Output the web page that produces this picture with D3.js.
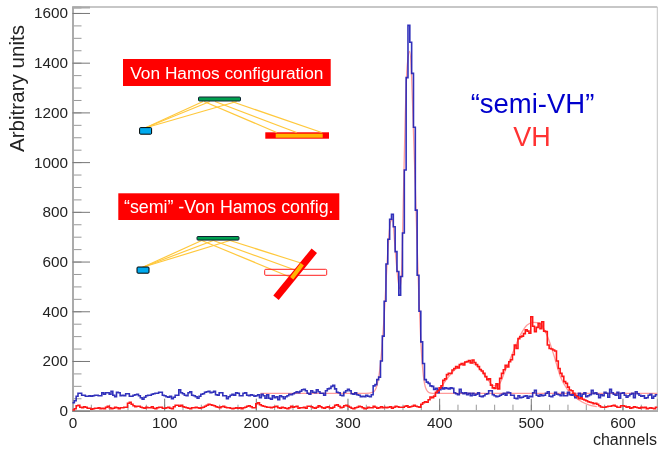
<!DOCTYPE html>
<html lang="en">
<head>
	<meta charset="UTF-8">
	<title>semi-VH vs VH</title>
	<style>
		html, body { margin: 0; padding: 0; background: #fff; }
		svg { display: block; }
		text { font-family: "Liberation Sans", Arial, sans-serif; }
	</style>
</head>
<body>
	<script src="https://cdn.jsdelivr.net/npm/d3@7"></script>
	<script>
		// histogram contents, one value per 2 channel bin, 10 bins (20 channels) a row
		var semiVH = [
			32,40,58,70,70,62,62,58,58,60,
			58,60,62,62,60,60,72,66,72,72,
			66,78,62,56,74,72,60,62,60,68,
			68,58,58,62,64,66,60,52,46,54,
			60,62,62,66,68,70,70,74,74,62,
			60,56,54,58,48,54,62,62,84,72,
			68,62,60,72,76,62,60,56,50,58,
			66,68,74,76,78,72,74,78,64,62,
			72,72,60,60,48,56,62,66,62,72,
			70,60,60,70,72,62,60,64,62,58,
			60,64,52,66,60,50,64,50,46,60,
			52,56,44,60,56,48,56,60,66,64,
			68,72,76,72,78,84,86,80,70,66,
			80,74,72,84,76,70,70,62,80,88,
			90,98,102,88,74,72,62,60,74,80,
			86,80,68,66,72,64,62,56,58,56,
			62,58,56,64,100,105,125,135,200,300,
			440,590,690,770,790,740,640,560,465,540,
			715,968,1340,1550,1482,1357,1140,807,545,400,
			277,190,125,115,110,100,98,85,90,72,
			84,92,88,92,90,88,92,90,72,68,
			64,86,72,68,72,64,70,60,70,62,
			66,72,58,56,60,66,68,80,80,64,
			60,56,58,62,66,70,62,74,72,62,
			62,50,48,60,52,54,58,60,50,58,
			56,72,82,62,58,64,60,62,70,76,
			58,56,62,74,66,64,60,74,60,60,
			74,64,62,66,52,60,70,58,66,72,
			56,60,64,82,68,72,66,52,64,60,
			74,70,54,86,72,66,62,74,50,70,
			72,62,54,60,66,70,52,76,68,62,
			58,60,50,52,62,66,50,58,64
		];

		var vonHamos = [
			3,8,20,22,14,12,16,14,10,10,
			6,8,10,10,12,8,10,8,14,18,
			12,8,10,14,12,8,12,12,14,14,
			30,34,26,20,16,18,18,14,12,10,
			14,12,12,16,10,8,12,14,14,10,
			10,12,14,10,8,16,22,22,18,22,
			16,14,12,10,8,12,12,14,12,10,
			12,14,18,22,26,24,22,20,16,14,
			12,16,18,14,12,12,10,8,10,12,
			10,12,8,12,14,18,20,16,12,12,
			28,32,24,20,18,16,14,14,12,14,
			16,18,12,10,14,12,10,8,12,18,
			14,16,18,10,12,12,14,10,18,18,
			16,12,10,14,20,16,12,10,14,16,
			12,10,14,22,24,18,12,14,20,22,
			18,14,10,8,12,14,18,16,12,8,
			10,14,12,12,18,14,10,12,16,12,
			14,12,14,16,10,14,18,16,14,14,
			14,18,20,14,16,18,22,18,16,14,
			26,32,36,34,44,55,52,58,74,80,
			92,100,122,128,145,150,150,164,170,178,
			172,186,190,184,196,198,202,192,204,194,
			186,178,166,160,150,137,125,128,103,92,
			90,108,88,130,150,165,183,176,197,205,
			225,264,250,290,297,300,310,325,320,312,
			378,340,318,335,352,330,358,320,318,264,
			250,248,244,240,200,170,150,138,117,110,
			95,83,80,70,62,56,48,52,46,43,
			40,36,34,32,28,30,26,20,15,14,
			14,16,18,18,20,22,18,14,14,20,
			20,18,14,16,10,12,16,14,12,10,
			14,12,14,8,10,12,10,8,14
		];

		// fit curves, [channel, counts]
		var semiVHFit = [
			[205,70],[320,70],[328,75],[332,100],[336,190],[340,380],[344,640],[347,760],[349,770],
			[352,650],[355,530],[357,490],[359,560],[361,860],[363,1180],[365,1380],[368,1445],
			[370,1340],[372,1120],[374,900],[376,660],[378,450],[380,280],[382,170],[384,110],
			[386,85],[389,73],[393,70],[638,70]
		];
		var vonHamosFit = [
			[390,45],[400,85],[410,135],[420,175],[430,195],[437,190],[445,165],[452,130],[460,100],
			[465,105],[472,160],[480,230],[488,300],[496,345],[503,355],[510,350],[518,300],[525,225],
			[532,140],[540,85],[548,55],[556,35],[564,22],[572,16]
		];

		var xTicks = [0, 100, 200, 300, 400, 500, 600],
			yTicks = [0, 200, 400, 600, 800, 1000, 1200, 1400, 1600],
			xMinor = d3.range(0, 638, 20),
			yMinor = d3.range(0, 1601, 50);

		var binWidth = 2,
			width = 658,
			height = 449,
			x = d3.scaleLinear()
				.domain([0, 638])
				.range([72.5, 657.3]),
			y = d3.scaleLinear()
				.domain([0, 1624])
				.range([410.7, 7]);

		var root = d3.select("body").append("svg")
			.attr("width", width)
			.attr("height", height)

		// the reference is a slightly soft screenshot
		root.append("defs").append("filter")
			.attr("id", "soft")
			.attr("x", 0).attr("y", 0)
			.attr("width", 1).attr("height", 1)
			.attr("filterUnits", "objectBoundingBox")
			.append("feGaussianBlur")
			.attr("stdDeviation", 0.4)

		var svg = root.append("g")
			.attr("filter", "url(#soft)")

		svg.append("rect")
			.attr("width", width)
			.attr("height", height)
			.attr("fill", "#fff")

		// frame
		svg.append("line")
			.attr("x1", x(0)).attr("x2", x(638))
			.attr("y1", y(1624)).attr("y2", y(1624))
			.attr("stroke", "#b4b4b4")
			.attr("stroke-width", 1.5)
		svg.append("line")
			.attr("x1", x(638)).attr("x2", x(638))
			.attr("y1", y(1624)).attr("y2", y(0))
			.attr("stroke", "#c4c4c4")
			.attr("stroke-width", 1)

		function renderXAxis() {
			svg.append("g")
				.attr("class", "x-minor")
				.attr("transform", "translate(0," + y(0) + ")")
				.call(d3.axisTop(x).tickValues(xMinor).tickSize(6).tickFormat(""))

			var g = svg.append("g")
				.attr("class", "x-axis")
				.attr("transform", "translate(0," + y(0) + ")")
				.call(d3.axisTop(x).tickValues(xTicks).tickSize(12).tickFormat(d3.format("d")))

			g.selectAll("text")
				.attr("y", 17)
				.attr("dy", 0)
				.attr("font-size", 15.3)
				.attr("fill", "#222")
		}

		function renderYAxis() {
			svg.append("g")
				.attr("class", "y-minor")
				.attr("transform", "translate(" + x(0) + ",0)")
				.call(d3.axisRight(y).tickValues(yMinor).tickSize(9).tickFormat(""))

			var g = svg.append("g")
				.attr("class", "y-axis")
				.attr("transform", "translate(" + x(0) + ",0)")
				.call(d3.axisRight(y).tickValues(yTicks).tickSize(17.5).tickFormat(d3.format("d")))

			g.selectAll("text")
				.attr("x", -4.5)
				.attr("text-anchor", "end")
				.attr("font-size", 15.3)
				.attr("fill", "#222")
		}

		renderXAxis()
		renderYAxis()

		svg.selectAll(".x-minor path, .y-minor path, .x-axis path, .y-axis path")
			.attr("stroke", "#aaa")
			.attr("stroke-width", 1.8)
		svg.selectAll(".x-minor line, .y-minor line").attr("stroke", "#999")
		svg.selectAll(".x-axis line, .y-axis line").attr("stroke", "#777")

		// histograms
		var step = d3.line()
			.curve(d3.curveStepAfter)
			.x(function(d){
				return x(d[0]);
			})
			.y(function(d){
				return y(d[1]);
			})

		function bins(values) {
			var pts = values.map(function(v, i){
				return [i * binWidth, v];
			});
			pts.push([values.length * binWidth, values[values.length - 1]]);
			return pts;
		}

		var fit = d3.line()
			.curve(d3.curveMonotoneX)
			.x(function(d){
				return x(d[0]);
			})
			.y(function(d){
				return y(d[1]);
			})

		svg.selectAll("path.fit")
			.data([semiVHFit, vonHamosFit])
			.enter()
			.append("path")
			.attr("class", "fit")
			.attr("d", function(d){
				return fit(d);
			})
			.attr("fill", "none")
			.attr("stroke", "#ff7070")
			.attr("stroke-width", 1.3)
			.attr("opacity", 0.7)

		svg.append("path")
			.attr("d", step(bins(semiVH)))
			.attr("fill", "none")
			.attr("stroke", "#1c1cb4")
			.attr("stroke-width", 1.6)
			.attr("opacity", 0.9)

		svg.append("path")
			.attr("d", step(bins(vonHamos)))
			.attr("fill", "none")
			.attr("stroke", "#ff1818")
			.attr("stroke-width", 1.6)

		// axis titles
		svg.append("text")
			.attr("transform", "translate(24,152) rotate(-90)")
			.attr("font-size", 20.6)
			.attr("fill", "#222")
			.text("Arbitrary units")

		svg.append("text")
			.attr("x", 657)
			.attr("y", 445)
			.attr("text-anchor", "end")
			.attr("font-size", 16)
			.attr("fill", "#222")
			.text("channels")

		// series labels
		svg.append("text")
			.attr("x", 532.5)
			.attr("y", 112.7)
			.attr("text-anchor", "middle")
			.attr("font-size", 27.5)
			.attr("fill", "#0000cc")
			.text("\u201Csemi-VH\u201D")

		svg.append("text")
			.attr("x", 532)
			.attr("y", 146)
			.attr("text-anchor", "middle")
			.attr("font-size", 27)
			.attr("fill", "#ff3333")
			.text("VH")

		// schematic insets
		function label(x0, y0, w, h, size, str) {
			svg.append("rect")
				.attr("x", x0).attr("y", y0)
				.attr("width", w).attr("height", h)
				.attr("fill", "#ff0000")
			svg.append("text")
				.attr("x", x0 + w / 2)
				.attr("y", y0 + h / 2 + size * 0.35)
				.attr("text-anchor", "middle")
				.attr("font-size", size)
				.attr("fill", "#fff")
				.text(str)
		}

		function box(x0, y0, w, h, fill, stroke) {
			svg.append("rect")
				.attr("x", x0).attr("y", y0)
				.attr("width", w).attr("height", h)
				.attr("rx", stroke ? 1 : 0)
				.attr("fill", fill)
				.attr("stroke", stroke || "none")
				.attr("stroke-width", 1)
		}

		function ray(x1, y1, x2, y2) {
			svg.append("line")
				.attr("x1", x1).attr("y1", y1)
				.attr("x2", x2).attr("y2", y2)
				.attr("stroke", "#ffc83c")
				.attr("stroke-width", 1.2)
		}

		label(123, 59, 207.7, 27, 17.3, "Von Hamos configuration")
		box(265.3, 132.3, 63.7, 6.4, "#ff0000")
		box(275.7, 133.7, 47, 4, "#ffb400")
		ray(145, 128, 203, 101.5)
		ray(145, 128, 210, 101.5)
		ray(145, 128, 236.7, 101.5)
		ray(204, 101.5, 276.7, 132.5)
		ray(215, 101.5, 296.7, 132.5)
		ray(231.7, 101.5, 321.7, 132.5)
		box(198.5, 97, 42, 4, "#00a050", "#123")
		box(139.6, 127.6, 12, 6.6, "#00aaee", "#000")

		label(118.3, 193.3, 221, 26.7, 17.8, "\u201Csemi\u201D -Von Hamos config.")
		ray(142.7, 267.3, 201.7, 240.5)
		ray(142.7, 267.3, 213.3, 240.5)
		ray(142.7, 267.3, 230, 240.5)
		ray(201.7, 240.5, 289.3, 276.7)
		ray(213.3, 240.5, 295, 270)
		ray(230, 240.5, 301.7, 263.3)
		box(264.7, 269.3, 62, 6, "none", "#ff2020")
		svg.append("line")
			.attr("x1", 276).attr("y1", 297.7)
			.attr("x2", 314.3).attr("y2", 250.7)
			.attr("stroke", "#ff0000")
			.attr("stroke-width", 7)
		svg.append("line")
			.attr("x1", 291.7).attr("y1", 278.3)
			.attr("x2", 302.3).attr("y2", 264.3)
			.attr("stroke", "#ffb400")
			.attr("stroke-width", 4)
		box(197, 236.5, 42, 3.6, "#00a050", "#123")
		box(137, 267, 12, 6.2, "#00aaee", "#000")
	</script>
</body>
</html>
